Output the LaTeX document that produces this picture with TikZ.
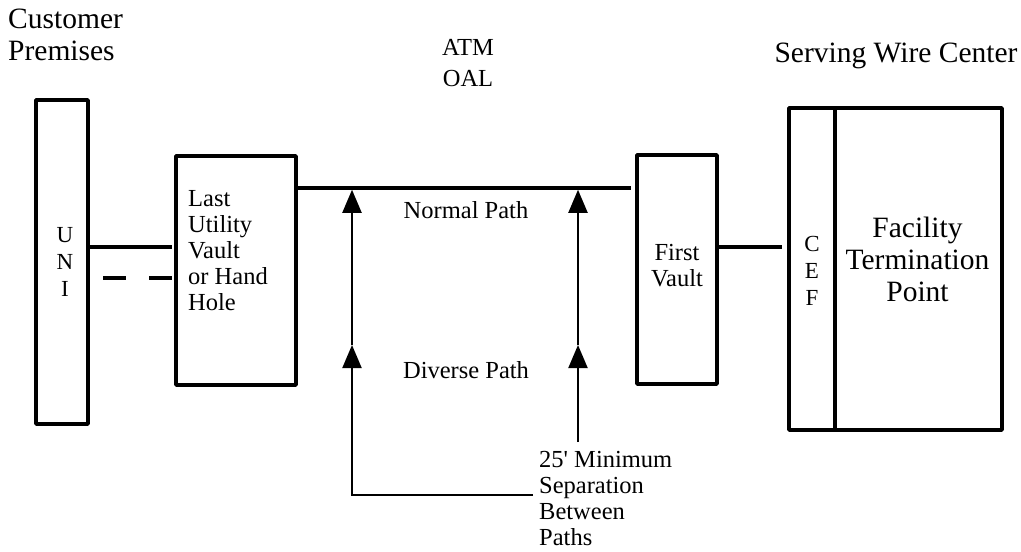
\documentclass[tikz,border=0pt]{standalone}
\usepackage{fontspec}
\setmainfont{Liberation Serif}
\usetikzlibrary{positioning,arrows.meta}

\tikzset{
  box/.style={draw, line width=3.5pt, line join=round, inner sep=0pt, outer sep=0pt},
  wire/.style={line width=3.5pt},
  sepline/.style={line width=2pt},
  upline/.style={sepline, -{Triangle[length=23pt,width=19pt]}},
  small/.style={font=\fontsize{24.5}{26}\selectfont, inner sep=0pt},
  big/.style={font=\fontsize{29.5}{32}\selectfont, inner sep=0pt, align=center},
}

\begin{document}
\begin{tikzpicture}[x=1pt,y=-1pt]
    \useasboundingbox (0,0) rectangle (1021,552);

    % Headings
    \node[big, align=left, anchor=west] (cust) at (8,35) {Customer\\Premises};
    \node[small, align=center, font=\fontsize{24.5}{31}\selectfont] (atm) at (468,63) {ATM\\OAL};
    \node[big, anchor=base] (swc) at (896,62) {Serving Wire Center};

    % Boxes
    \node[box, minimum width=52pt, minimum height=324pt] (uni) at (62,262) {};
    \node[box, minimum width=120pt, minimum height=229pt] (lu) at (236,270.5) {};
    \node[box, minimum width=80pt, minimum height=229pt] (fv) at (677,269.5) {};
    \node[box, minimum width=46pt, minimum height=322pt] (cef) at (812,269) {};
    \node[box, minimum width=167pt, minimum height=322pt, right=0pt of cef] (ftp) {};

    % Box texts
    \node[small, align=center, font=\fontsize{23}{27}\selectfont] (unitxt) at ([xshift=3pt]uni.center) {U\\N\\I};
    \node[small, align=left, anchor=west] (lutxt) at ([xshift=12pt,yshift=20pt]lu.west) {Last\\Utility\\Vault\\or Hand\\Hole};
    \node[small, align=center] (fvtxt) at ([yshift=4pt]fv.center) {First\\Vault};
    \node[small, align=center, font=\fontsize{23}{27}\selectfont] (ceftxt) at ([yshift=-2pt]cef.center) {C\\E\\F};
    \node[big] (ftptxt) at ([xshift=-1pt,yshift=10pt]ftp.center) {Facility\\Termination\\Point};

    % Levels
    \coordinate (top) at (0,188);
    \coordinate (lvlA) at (0,247);
    \coordinate (dashend) at (103,278);

    % Paths
    \draw[wire, shorten >=4pt] (uni.east |- lvlA) -- (lu.west |- lvlA);
    \draw[wire, dash pattern=on 23pt off 23pt, shorten >=4pt] (dashend) -- (lu.west |- dashend);
    \draw[wire, shorten >=6pt] (lu.east |- top) -- (fv.west |- top);
    \draw[wire, shorten >=7pt] (fv.east |- lvlA) -- (cef.west |- lvlA);
    \node[small] (normal) at (466,210) {Normal Path};
    \node[small] (diverse) at (466,370) {Diverse Path};

    % Separation
    \node[small, align=left, anchor=west] (note) at (539,499) {25\textquotesingle\ Minimum\\Separation\\Between\\Paths};
    \coordinate (lbot) at (352,495);
    \coordinate (lmid) at (352,345);
    \coordinate (rbot) at (578,442);
    \coordinate (rmid) at (578,345);
    \draw[upline, shorten <=6pt] (note.west |- lbot) -- (lbot) -- (lmid);
    \draw[upline, shorten >=1.75pt] (lmid) -- (lmid |- top);
    \draw[upline] (rbot) -- (rmid);
    \draw[upline, shorten >=1.75pt] (rmid) -- (rmid |- top);
\end{tikzpicture}
\end{document}
